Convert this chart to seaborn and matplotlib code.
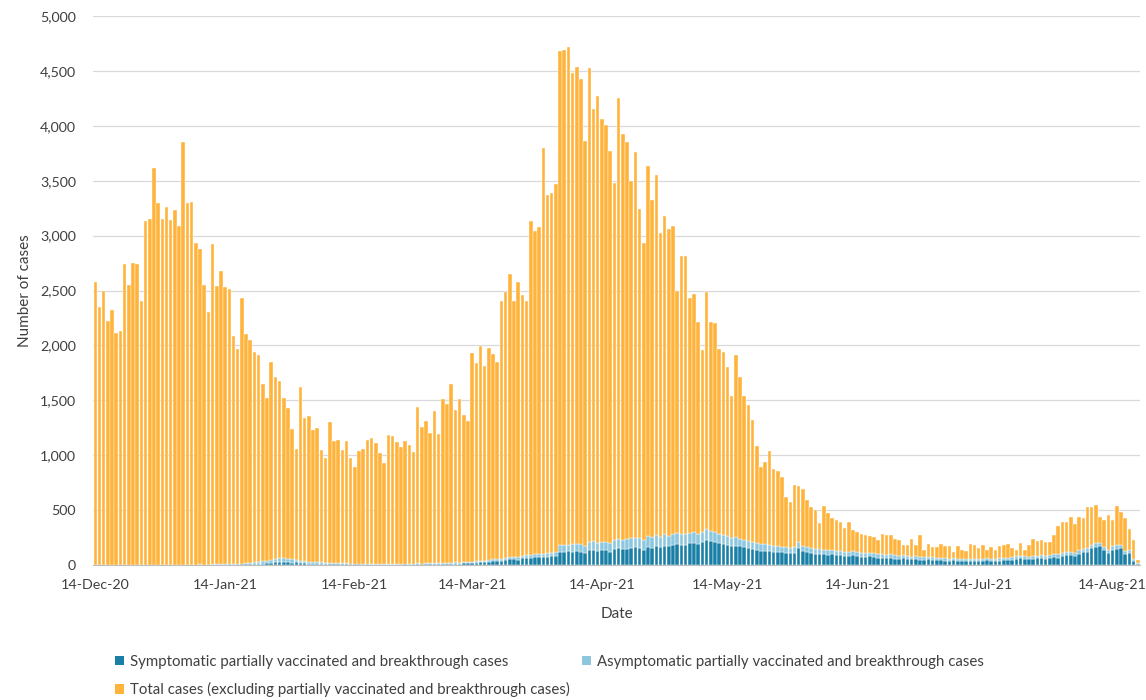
import numpy as np
import pandas as pd
import matplotlib.pyplot as plt
import seaborn as sns
from matplotlib.patches import Patch
from matplotlib.ticker import FuncFormatter

sns.set_style("whitegrid")
plt.rcParams["font.family"] = ["Lato", "DejaVu Sans"]

# daily values, 14-Dec-20 onwards (one entry per day)
start_date = "2020-12-14"

# height of the whole daily stack
stack_top = [
    2580, 2350, 2500, 2220, 2320, 2110, 2130, 2740, 2550, 2750,
    2740, 2400, 3130, 3150, 3620, 3300, 3150, 3260, 3140, 3230,
    3090, 3850, 3300, 3310, 2930, 2880, 2550, 2300, 2920, 2540,
    2680, 2530, 2510, 2090, 1970, 2430, 2100, 2050, 1940, 1910,
    1650, 1520, 1850, 1710, 1680, 1520, 1430, 1240, 1060, 1620,
    1340, 1360, 1230, 1250, 1050, 970, 1300, 1130, 1140, 1050,
    1130, 970, 890, 1040, 1060, 1140, 1160, 1110, 1020, 930,
    1180, 1170, 1120, 1070, 1130, 1090, 1030, 1440, 1260, 1310,
    1200, 1400, 1190, 1510, 1470, 1650, 1410, 1510, 1370, 1310,
    1930, 1840, 1990, 1810, 1980, 1920, 1850, 2400, 2490, 2650,
    2400, 2580, 2460, 2400, 3130, 3040, 3080, 3800, 3370, 3390,
    3470, 4680, 4690, 4720, 4480, 4540, 4430, 3860, 4530, 4150,
    4270, 4060, 4010, 3770, 3480, 4250, 3930, 3850, 3500, 3760,
    3240, 2930, 3630, 3320, 3550, 3020, 3180, 3060, 3090, 2500,
    2810, 2810, 2430, 2470, 2210, 1960, 2490, 2210, 2200, 1970,
    1940, 1800, 1540, 1910, 1710, 1540, 1460, 1320, 1080, 890,
    940, 1040, 870, 860, 800, 620, 570, 730, 720, 690,
    590, 530, 500, 380, 540, 470, 430, 410, 390, 340,
    390, 320, 300, 280, 270, 260, 250, 230, 280, 270,
    270, 240, 230, 180, 180, 240, 180, 270, 140, 190,
    160, 160, 190, 170, 170, 120, 170, 140, 130, 190,
    180, 150, 180, 140, 160, 140, 170, 180, 190, 150,
    140, 200, 140, 180, 240, 220, 230, 210, 210, 270,
    350, 390, 390, 440, 370, 440, 430, 530, 530, 545,
    440, 410, 455, 410, 540, 485, 425, 330, 230, 45,
]

symptomatic = [
    0, 0, 0, 0, 0, 0, 0, 0, 0, 0,
    0, 0, 0, 0, 0, 0, 0, 0, 0, 0,
    0, 0, 0, 0, 0, 2, 0, 0, 2, 3,
    2, 3, 4, 3, 5, 4, 6, 5, 8, 10,
    12, 15, 18, 22, 25, 28, 24, 20, 22, 18,
    15, 12, 10, 8, 10, 6, 8, 6, 5, 6,
    5, 4, 5, 4, 3, 4, 3, 3, 2, 3,
    3, 2, 3, 3, 4, 3, 4, 5, 4, 6,
    5, 6, 8, 7, 9, 10, 12, 11, 14, 15,
    18, 20, 25, 22, 30, 35, 40, 38, 45, 50,
    55, 48, 60, 65, 62, 70, 68, 75, 72, 80,
    85, 120, 115, 125, 118, 130, 122, 110, 135, 140,
    128, 132, 138, 120, 145, 150, 142, 148, 155, 160,
    150, 138, 165, 158, 170, 162, 175, 168, 180, 190,
    178, 185, 195, 200, 188, 205, 230, 215, 210, 198,
    190, 185, 170, 175, 168, 160, 150, 142, 135, 128,
    130, 125, 118, 122, 115, 110, 105, 112, 150, 125,
    118, 110, 102, 98, 95, 92, 96, 90, 88, 85,
    82, 88, 80, 76, 72, 78, 70, 65, 62, 60,
    66, 58, 55, 60, 52, 50, 55, 48, 45, 50,
    46, 42, 45, 40, 38, 42, 36, 40, 35, 38,
    35, 40, 36, 42, 38, 35, 40, 42, 45, 48,
    55, 60, 58, 52, 55, 60, 62, 58, 65, 70,
    65, 80, 88, 92, 78, 100, 115, 122, 150, 165,
    168, 132, 112, 138, 145, 150, 102, 108, 40, 10,
]

asymptomatic = [
    0, 0, 0, 0, 0, 0, 0, 0, 0, 0,
    0, 0, 0, 0, 0, 0, 0, 0, 2, 0,
    0, 2, 0, 0, 3, 2, 0, 2, 3, 4,
    3, 4, 5, 4, 6, 8, 10, 12, 15, 18,
    20, 25, 30, 35, 38, 32, 28, 30, 26, 22,
    20, 18, 15, 14, 12, 10, 12, 10, 8, 9,
    8, 6, 7, 6, 5, 6, 5, 4, 5, 6,
    5, 6, 5, 6, 7, 6, 5, 8, 6, 7,
    8, 7, 9, 8, 10, 9, 11, 10, 12, 10,
    12, 14, 13, 15, 16, 15, 18, 16, 20, 22,
    20, 24, 22, 25, 28, 26, 30, 28, 32, 30,
    35, 62, 65, 60, 68, 64, 70, 66, 72, 75,
    70, 78, 74, 80, 85, 90, 82, 88, 92, 86,
    95, 90, 98, 92, 100, 96, 104, 98, 106, 102,
    108, 100, 95, 102, 98, 92, 95, 90, 88, 84,
    82, 80, 78, 76, 72, 70, 68, 65, 62, 60,
    58, 56, 55, 54, 52, 50, 52, 48, 55, 50,
    48, 46, 45, 44, 42, 40, 42, 38, 40, 36,
    38, 35, 36, 34, 35, 32, 34, 30, 40, 32,
    30, 28, 30, 26, 28, 25, 27, 24, 26, 22,
    24, 22, 21, 23, 20, 22, 20, 18, 20, 19,
    20, 18, 19, 17, 20, 18, 19, 20, 18, 20,
    22, 20, 24, 22, 25, 23, 26, 24, 25, 28,
    30, 28, 32, 30, 28, 32, 30, 34, 32, 35,
    30, 32, 28, 30, 32, 28, 26, 24, 15, 8,
]

tick_labels = ["14-Dec-20", "14-Jan-21", "14-Feb-21", "14-Mar-21", "14-Apr-21",
               "14-May-21", "14-Jun-21", "14-Jul-21", "14-Aug-21"]

series_names = [
    "Symptomatic partially vaccinated and breakthrough cases",
    "Asymptomatic partially vaccinated and breakthrough cases",
    "Total cases (excluding partially vaccinated and breakthrough cases)",
]
series_colors = ["#1a7fa6", "#8cc7df", "#ffb33a"]

# build the table
dates = pd.date_range(start_date, periods=len(stack_top), freq="D")
day = (dates - dates[0]).days
sym = np.array(symptomatic)
asym = np.array(asymptomatic)
other = np.array(stack_top) - sym - asym

df = pd.concat([
    pd.DataFrame({"day": day, "series": series_names[0], "cases": sym}),
    pd.DataFrame({"day": day, "series": series_names[1], "cases": asym}),
    pd.DataFrame({"day": day, "series": series_names[2], "cases": other}),
])

fig, ax = plt.subplots(figsize=(11.46, 7.0), dpi=100)
fig.subplots_adjust(left=0.081, right=0.995, bottom=0.193, top=0.977)

# seaborn stacks the first hue level on top, so feed them reversed
sns.histplot(data=df, x="day", weights="cases", hue="series",
             hue_order=series_names[::-1], palette=series_colors[::-1],
             multiple="stack", discrete=True, shrink=0.85, alpha=1,
             edgecolor="white", linewidth=0.3, legend=False, ax=ax)

tick_days = [(pd.Timestamp(t) - dates[0]).days
             for t in pd.to_datetime(tick_labels, format="%d-%b-%y")]
ax.set_xticks(tick_days)
ax.set_xticklabels(tick_labels)
ax.set_xlim(-0.6, len(stack_top) - 0.4)

ax.set_ylim(0, 5000)
ax.set_yticks(np.arange(0, 5001, 500))
ax.yaxis.set_major_formatter(FuncFormatter(lambda v, p: f"{int(v):,}"))

ax.grid(False)
ax.yaxis.grid(True, color="#d9d9d9", linewidth=0.9)
ax.set_axisbelow(True)
for s in ["top", "right", "left"]:
    ax.spines[s].set_visible(False)
ax.spines["bottom"].set_color("#bfbfbf")
ax.tick_params(axis="x", length=5, color="#bfbfbf", direction="out",
               labelsize=10.3, labelcolor="#404040", pad=5)
ax.tick_params(axis="y", length=0, labelsize=10.3, labelcolor="#404040", pad=12)

ax.set_xlabel("Date", fontsize=11, color="#404040", labelpad=12)
ax.set_ylabel("Number of cases", fontsize=11, color="#404040", labelpad=6)

handles = [Patch(facecolor=c, edgecolor="none") for c in series_colors]
order = [0, 2, 1]
fig.legend([handles[i] for i in order], [series_names[i] for i in order],
           ncol=2, loc="upper left", bbox_to_anchor=(0.095, 0.073),
           frameon=False, fontsize=10.8, handlelength=0.6, handleheight=0.6,
           handletextpad=0.4, columnspacing=0.85, labelspacing=0.9,
           labelcolor="#404040", borderaxespad=0)

fig.savefig("out.png", dpi=100)
